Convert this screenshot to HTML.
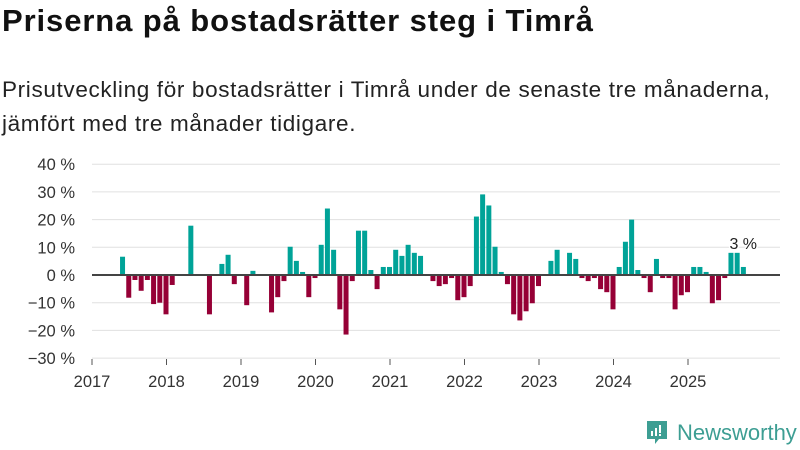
<!DOCTYPE html>
<html><head><meta charset="utf-8"><style>
body{margin:0;width:800px;height:450px;background:#fff;font-family:"Liberation Sans",sans-serif;color:#111;position:relative;overflow:hidden}
#title{position:absolute;left:2px;top:3px;font-size:31px;font-weight:bold;letter-spacing:0.9px}
#sub{position:absolute;left:2px;top:73px;font-size:22.5px;line-height:34px;color:#222;letter-spacing:0.65px;white-space:nowrap}
svg{position:absolute;left:0;top:0}
</style></head><body>
<div id="title">Priserna på bostadsrätter steg i Timrå</div>
<div id="sub">Prisutveckling för bostadsrätter i Timrå under de senaste tre månaderna,<br>jämfört med tre månader tidigare.</div>
<svg id="chart" width="800" height="450"></svg>
<script>
const startMonth = 5; // June 2017, months since Jan 2017
const values = [6.6,-8.2,-1.8,-5.7,-1.8,-10.5,-10,-14.2,-3.6,null,null,17.8,null,null,-14.2,null,4,7.3,-3.3,null,-10.9,1.5,null,null,-13.5,-8,-2.2,10.2,5.1,1.1,-8,-1.1,10.9,24,9.1,-12.4,-21.5,-2.2,16,16,1.8,-5.1,2.9,2.9,9.1,6.9,10.9,8,6.9,null,-2.2,-4,-3.3,-1.1,-9.1,-8,-4,21.1,29.1,25.1,10.2,1.1,-3.3,-14.2,-16.4,-13.1,-10.2,-4,null,5.1,9.1,null,8,5.8,-1.1,-2.2,-1.1,-5.1,-6.2,-12.4,2.9,12,20,1.8,-1.1,-6.2,5.8,-1.1,-1.1,-12.4,-7.3,-6.2,2.9,2.9,1.1,-10.2,-9.1,-1.1,8,8,2.9];
const yTicks = [40,30,20,10,0,-10,-20,-30];
const xYears = [2017,2018,2019,2020,2021,2022,2023,2024,2025];
const lastLabel = "3 %";
const NS="http://www.w3.org/2000/svg";
const svg=document.getElementById('chart');
function y(v){return 275 - v*2.77;}
function x(m){return 92 + m*74.5/12;}
function mk(t,a){const e=document.createElementNS(NS,t);for(const k in a)e.setAttribute(k,a[k]);svg.appendChild(e);return e;}
yTicks.forEach(t=>{
  const g=mk('line',{x1:92,x2:780,y1:y(t),y2:y(t),stroke:t===0?'#444':'#e0e0e0','stroke-width':t===0?2:1});
  
  
  const tx=mk('text',{x:75,y:y(t)+6,'text-anchor':'end','font-size':16.5,fill:'#333','font-family':'Liberation Sans, sans-serif'});
  tx.textContent=(t<0?'−':'')+Math.abs(t)+' %';
  
  
});
xYears.forEach((yr,i)=>{
  const px=x(i*12);
  const l=mk('line',{x1:px,x2:px,y1:359,y2:365,stroke:'#555','stroke-width':1});
  
  
  const tx=mk('text',{x:px,y:387,'text-anchor':'middle','font-size':16.5,fill:'#333','font-family':'Liberation Sans, sans-serif'});
  tx.textContent=yr;
  
  
});
values.forEach((v,i)=>{
  if(v===null)return;
  const m=startMonth+i;
  const r=mk('rect',{x:x(m)-3,width:5,y:Math.min(y(v),y(0)),height:Math.abs(y(v)-y(0)),fill:v>=0?'#00a398':'#960036'});
  
  
});
const z=mk('line',{x1:92,x2:780,y1:y(0),y2:y(0),stroke:'#444','stroke-width':2});


const li=values.length-1;
const lab=mk('text',{x:x(startMonth+li-2)-2,y:y(values[li])-18,'font-size':16,fill:'#222',stroke:'#fff','stroke-width':3,'paint-order':'stroke','font-family':'Liberation Sans, sans-serif'});
lab.textContent=lastLabel;


</script>
<div style="position:absolute;left:645px;top:420px;display:flex;align-items:center">
<svg width="24" height="26" viewBox="0 0 24 26" style="position:static"><path d="M2 1h20v18h-8l-4 5v-5H2z" fill="#3d9e93"/><rect x="6" y="11" width="2" height="5" fill="#fff"/><rect x="10" y="8" width="2" height="8" fill="#fff"/><rect x="14" y="5" width="2" height="8" fill="#fff"/><rect x="14" y="14" width="2" height="2" fill="#fff"/></svg>
<span style="color:#3d9e93;font-size:22px;margin-left:8px">Newsworthy</span></div>
</body></html>
